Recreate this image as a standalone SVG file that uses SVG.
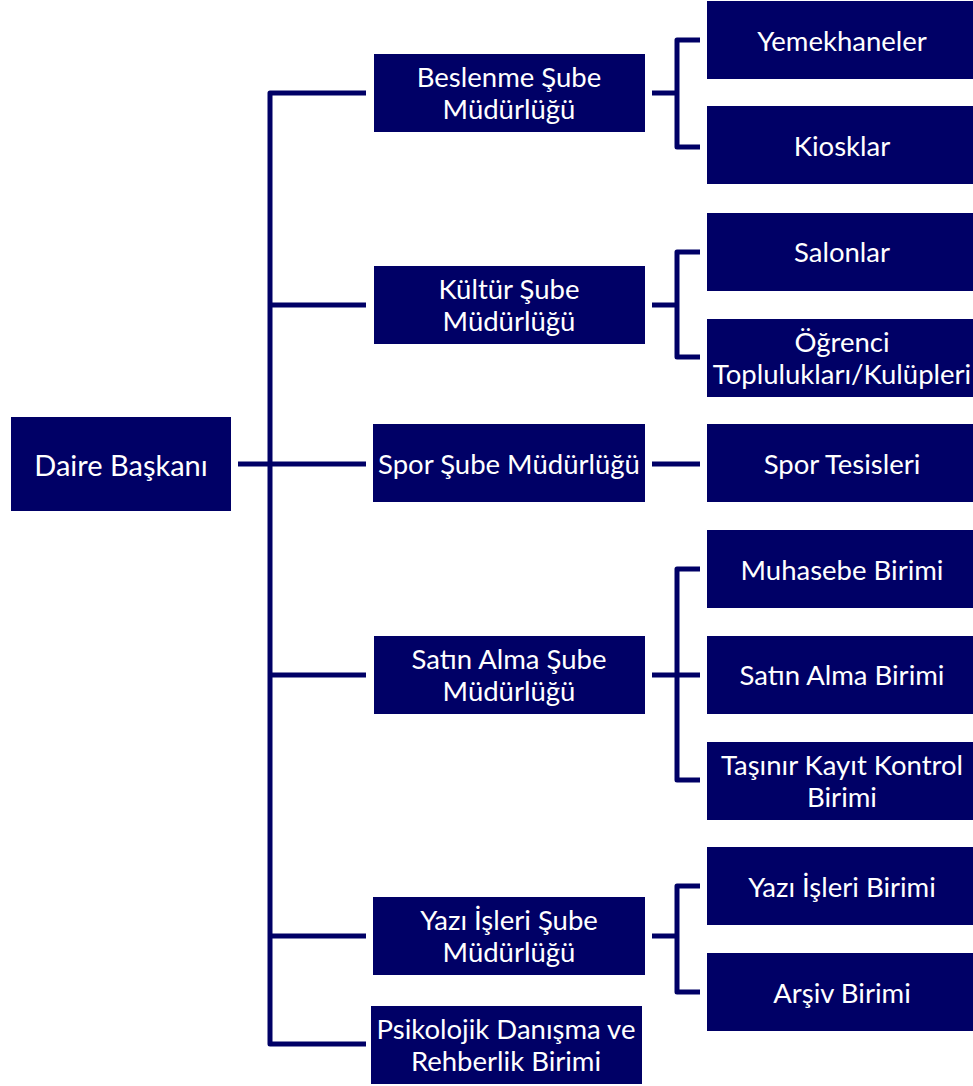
<svg xmlns="http://www.w3.org/2000/svg" width="973" height="1086" viewBox="0 0 973 1086">
<style>
.b{fill:#000066}
.t{fill:#ffffff;font-family:Lato,"Open Sans",sans-serif;font-size:27.5px;text-anchor:middle;dominant-baseline:central}
.c{fill:none;stroke:#000066;stroke-width:5;stroke-linejoin:round}
</style>
<rect width="973" height="1086" fill="#ffffff"/>
<g id="connectors">
<path class="c" d="M366,93 H270 V1044 H366"/>
<path class="c" d="M270,305 H366"/>
<path class="c" d="M238,464 H366"/>
<path class="c" d="M270,675 H366"/>
<path class="c" d="M270,936 H366"/>
<path class="c" d="M652,93 H677"/>
<path class="c" d="M700,40 H677 V147 H700"/>
<path class="c" d="M652,305 H677"/>
<path class="c" d="M700,252 H677 V357 H700"/>
<path class="c" d="M652,464 H700"/>
<path class="c" d="M652,675 H700"/>
<path class="c" d="M700,569 H677 V780 H700"/>
<path class="c" d="M652,936 H677"/>
<path class="c" d="M700,886 H677 V992 H700"/>
</g>
<g id="daire"><rect class="b" x="11" y="417" width="220" height="94"/><text class="t" x="121" y="464" style="font-size:29px">Daire Başkanı</text></g>
<g id="beslenme"><rect class="b" x="374" y="54" width="271" height="78"/><text class="t" x="509" y="76">Beslenme Şube</text><text class="t" x="509" y="108">Müdürlüğü</text></g>
<g id="kultur"><rect class="b" x="374" y="266" width="271" height="78"/><text class="t" x="509" y="288">Kültür Şube</text><text class="t" x="509" y="320">Müdürlüğü</text></g>
<g id="spor"><rect class="b" x="373" y="424" width="272" height="78"/><text class="t" x="509" y="463">Spor Şube Müdürlüğü</text></g>
<g id="satinalma"><rect class="b" x="374" y="636" width="271" height="78"/><text class="t" x="509" y="658">Satın Alma Şube</text><text class="t" x="509" y="690">Müdürlüğü</text></g>
<g id="yaziisleri"><rect class="b" x="373" y="897" width="272" height="78"/><text class="t" x="509" y="919">Yazı İşleri Şube</text><text class="t" x="509" y="951">Müdürlüğü</text></g>
<g id="psikolojik"><rect class="b" x="371" y="1006" width="271" height="78"/><text class="t" x="506" y="1028">Psikolojik Danışma ve</text><text class="t" x="506" y="1060">Rehberlik Birimi</text></g>
<g id="yemekhaneler"><rect class="b" x="707" y="1" width="266" height="78"/><text class="t" x="842" y="40">Yemekhaneler</text></g>
<g id="kiosklar"><rect class="b" x="707" y="106" width="266" height="78"/><text class="t" x="842" y="145">Kiosklar</text></g>
<g id="salonlar"><rect class="b" x="707" y="213" width="266" height="78"/><text class="t" x="842" y="251">Salonlar</text></g>
<g id="ogrenci"><rect class="b" x="707" y="319" width="266" height="78"/><text class="t" x="842" y="341">Öğrenci</text><text class="t" x="842" y="373">Toplulukları/Kulüpleri</text></g>
<g id="sportesisleri"><rect class="b" x="707" y="424" width="266" height="78"/><text class="t" x="842" y="463">Spor Tesisleri</text></g>
<g id="muhasebe"><rect class="b" x="707" y="530" width="266" height="78"/><text class="t" x="842" y="569">Muhasebe Birimi</text></g>
<g id="satinalmabirimi"><rect class="b" x="707" y="636" width="266" height="78"/><text class="t" x="842" y="674">Satın Alma Birimi</text></g>
<g id="tasinir"><rect class="b" x="707" y="742" width="266" height="78"/><text class="t" x="842" y="764">Taşınır Kayıt Kontrol</text><text class="t" x="842" y="796">Birimi</text></g>
<g id="yaziisleribirimi"><rect class="b" x="707" y="847" width="266" height="78"/><text class="t" x="842" y="886">Yazı İşleri Birimi</text></g>
<g id="arsiv"><rect class="b" x="707" y="953" width="266" height="78"/><text class="t" x="842" y="992">Arşiv Birimi</text></g>
</svg>
